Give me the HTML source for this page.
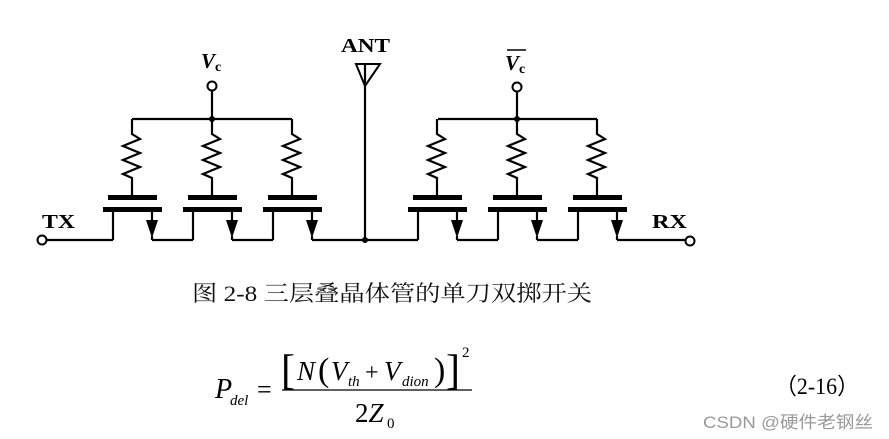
<!DOCTYPE html>
<html><head><meta charset="utf-8"><style>
html,body{margin:0;padding:0;background:#fff;}
svg{display:block;}
</style></head><body>
<svg width="889" height="439" viewBox="0 0 889 439" xmlns="http://www.w3.org/2000/svg">
<g stroke="#000" stroke-width="2.2" fill="none">
  <line x1="132" y1="119" x2="292" y2="119"/>
  <line x1="212" y1="90" x2="212" y2="119"/>
  <line x1="438" y1="119" x2="597" y2="119"/>
  <line x1="517" y1="91" x2="517" y2="119"/>
  <line x1="365" y1="64" x2="365" y2="240"/>
  <polygon points="356,64 380,64 365,86" stroke-width="2"/>
  <line x1="46" y1="240" x2="113" y2="240"/>
  <line x1="152" y1="240" x2="193" y2="240"/>
  <line x1="232" y1="240" x2="273" y2="240"/>
  <line x1="312" y1="240" x2="418" y2="240"/>
  <line x1="457" y1="240" x2="498" y2="240"/>
  <line x1="537" y1="240" x2="578" y2="240"/>
  <line x1="617" y1="240" x2="686" y2="240"/>
</g>
<circle cx="42" cy="240" r="4.5" fill="#fff" stroke="#000" stroke-width="2"/>
<circle cx="690" cy="241" r="4.5" fill="#fff" stroke="#000" stroke-width="2"/>
<circle cx="212" cy="86" r="4.5" fill="#fff" stroke="#000" stroke-width="2"/>
<circle cx="517" cy="87" r="4.5" fill="#fff" stroke="#000" stroke-width="2"/>
<circle cx="212" cy="119" r="3" fill="#000"/>
<circle cx="517" cy="119" r="3" fill="#000"/>
<circle cx="365" cy="240" r="3" fill="#000"/>

<defs>
<g id="cell">
  <polyline points="0,119 0,134 8,139 -9,146 8,153 -9,160 8,167 -9,174 0,178 0,196" fill="none" stroke="#000" stroke-width="2.2"/>
  <rect x="-24" y="195" width="49" height="5" fill="#000"/>
  <rect x="-29" y="207" width="59" height="5" fill="#000"/>
  <line x1="-19" y1="212" x2="-19" y2="240" stroke="#000" stroke-width="2.2"/>
  <line x1="20" y1="212" x2="20" y2="221" stroke="#000" stroke-width="2.2"/>
  <polygon points="14,220 26,220 20,238" fill="#000"/>
  <line x1="20" y1="236" x2="20" y2="240" stroke="#000" stroke-width="2.2"/>
</g>
</defs>
<use href="#cell" x="132"/>
<use href="#cell" x="212"/>
<use href="#cell" x="292"/>
<use href="#cell" x="437"/>
<use href="#cell" x="517"/>
<use href="#cell" x="597"/>

<g font-family="Liberation Serif, serif" font-weight="bold" fill="#000">
  <text x="42" y="228" font-size="20" textLength="33" lengthAdjust="spacingAndGlyphs">TX</text>
  <text x="652" y="228" font-size="20" textLength="35" lengthAdjust="spacingAndGlyphs">RX</text>
  <text x="341" y="52" font-size="20" textLength="49" lengthAdjust="spacingAndGlyphs">ANT</text>
  <text x="201" y="68" font-size="21" font-style="italic">V</text>
  <text x="215" y="71" font-size="14">c</text>
  <text x="505" y="70" font-size="21" font-style="italic">V</text>
  <text x="519" y="73" font-size="14">c</text>
</g>
<line x1="507" y1="50" x2="526" y2="50" stroke="#000" stroke-width="1.5"/>

<text x="192" y="301" font-family="Liberation Serif, 'Noto Serif CJK SC', serif" font-size="22" fill="#111" textLength="400" lengthAdjust="spacingAndGlyphs">图 2-8  三层叠晶体管的单刀双掷开关</text>

<g font-family="Liberation Serif, serif" fill="#000">
  <text x="215" y="398" font-size="28" font-style="italic">P</text>
  <text x="230" y="405" font-size="15" font-style="italic">del</text>
  <text x="257" y="398" font-size="26">=</text>
  <line x1="282" y1="390" x2="472" y2="390" stroke="#000" stroke-width="1.3"/>
  <text x="281" y="384" font-size="42">[</text>
  <text x="297" y="380" font-size="27" font-style="italic">N</text>
  <text x="318" y="381" font-size="34">(</text>
  <text x="331" y="380" font-size="27" font-style="italic">V</text>
  <text x="348" y="386" font-size="15" font-style="italic">th</text>
  <text x="365" y="380" font-size="24">+</text>
  <text x="384" y="380" font-size="27" font-style="italic">V</text>
  <text x="402" y="386" font-size="15" font-style="italic">dion</text>
  <text x="434" y="381" font-size="34">)</text>
  <text x="446" y="384" font-size="42">]</text>
  <text x="462" y="357" font-size="15">2</text>
  <text x="355" y="422" font-size="27">2<tspan font-style="italic">Z</tspan></text>
  <text x="387" y="428" font-size="15">0</text>
  <text x="775" y="394" font-size="23" textLength="84" lengthAdjust="spacingAndGlyphs">（2-16）</text>
</g>
<text x="703" y="428" font-family="Liberation Sans, 'Noto Sans CJK SC', sans-serif" font-size="17" fill="#999" textLength="170" lengthAdjust="spacingAndGlyphs">CSDN @硬件老钢丝</text>
</svg>
</body></html>
